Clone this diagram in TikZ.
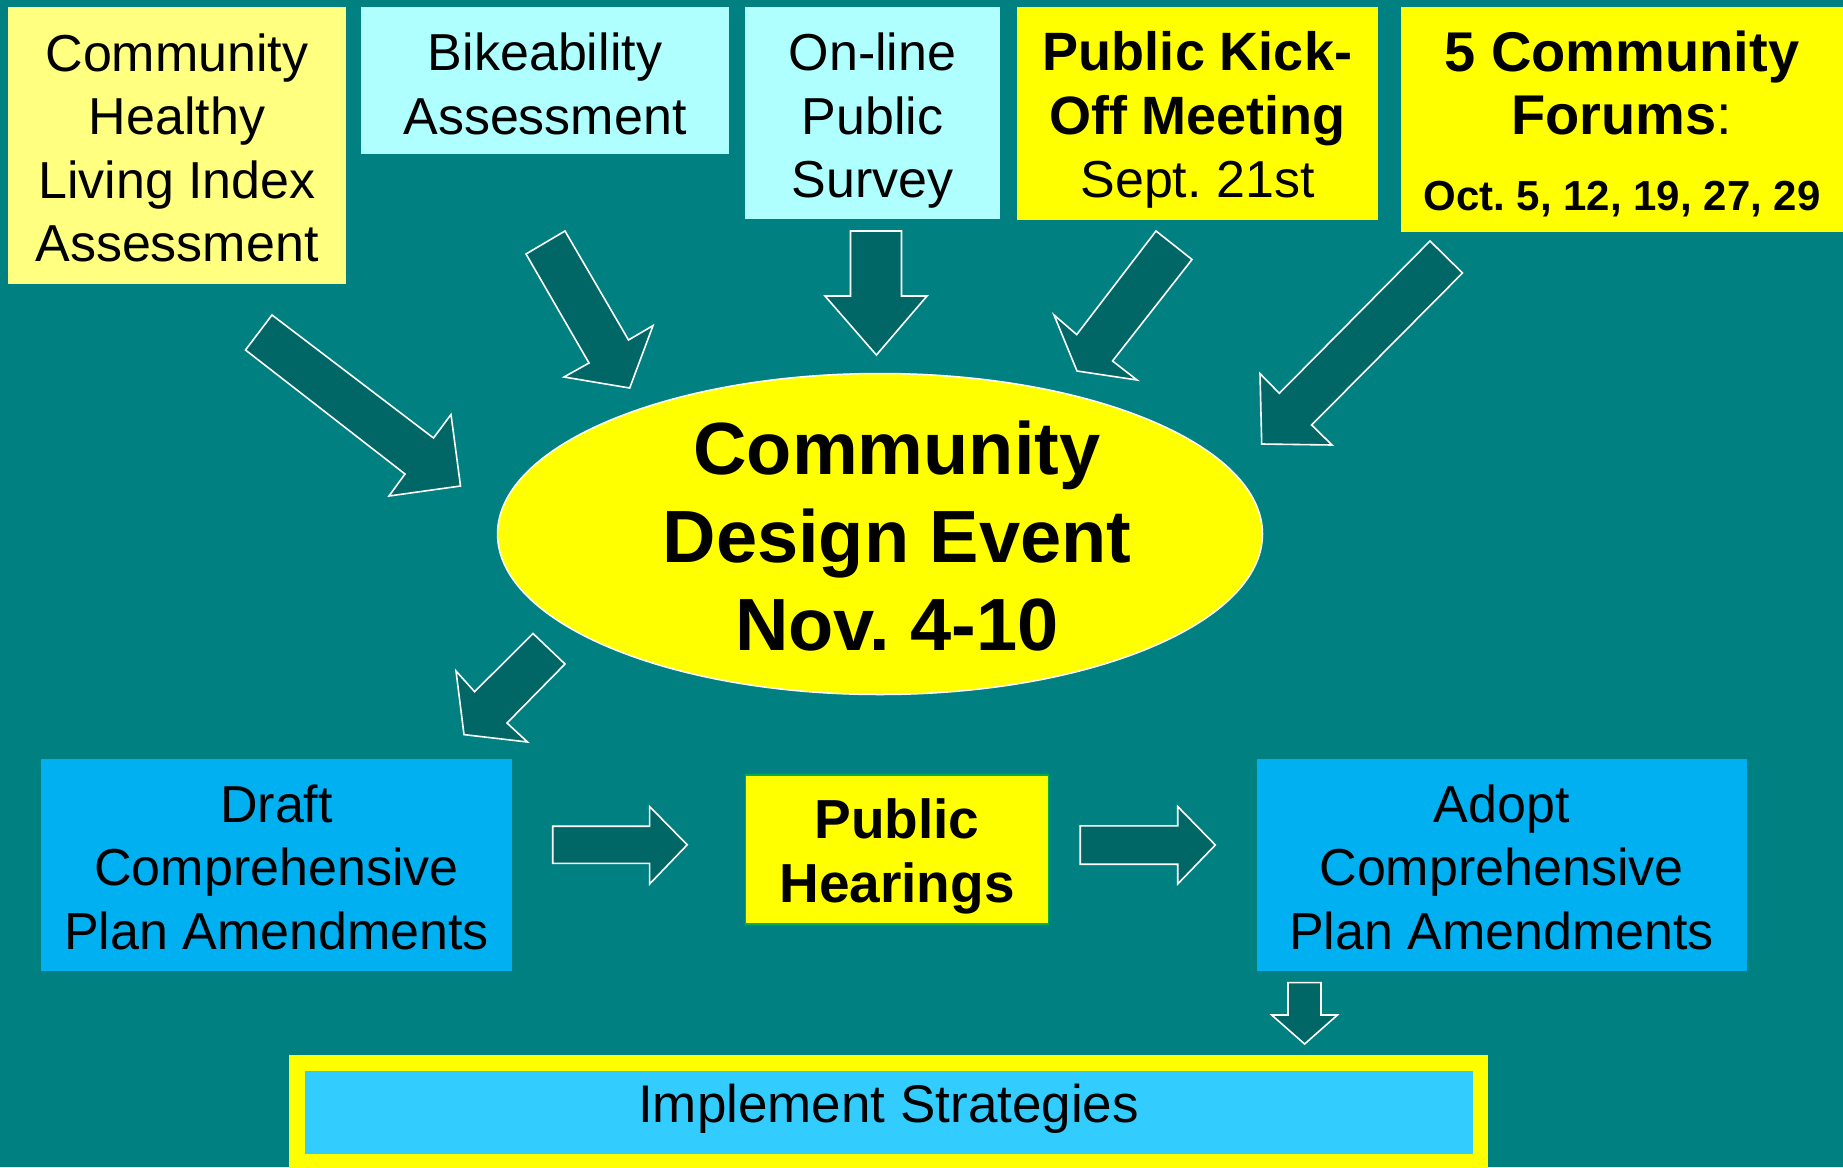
\documentclass[tikz,border=0pt]{standalone}
\usepackage{fontspec}
\setmainfont{Liberation Sans}
\frenchspacing
\usetikzlibrary{shapes.geometric}
\definecolor{bg}{RGB}{0,128,128}
\definecolor{arrowc}{RGB}{0,102,102}
\definecolor{lyellow}{RGB}{255,255,128}
\definecolor{lcyan}{RGB}{175,255,255}
\definecolor{yel}{RGB}{255,255,0}
\definecolor{blu}{RGB}{0,176,240}
\definecolor{icyan}{RGB}{51,204,255}
\definecolor{grn}{RGB}{0,176,80}
\begin{document}
\frenchspacing
\begin{tikzpicture}[x=1pt,y=-1pt,
  boxbg/.style={rectangle, inner sep=0pt},
  txt/.style={inner sep=0pt, align=center, text=black},
  reg/.style={font=\fontsize{52}{63.5}\selectfont},
  bld/.style={font=\fontsize{55}{64}\selectfont\bfseries},
  barrow/.style={fill=arrowc, draw=white, line width=1.6pt, line join=miter}]
\fill[bg] (0,0) rectangle (1843,1167);
\useasboundingbox (0,0) rectangle (1843,1167);

% top boxes
\node[boxbg, fill=lyellow, minimum width=338pt, minimum height=277pt] (chli) at (177,145.5) {};
\node[txt, reg] (chlit) at ([yshift=-2.5pt]chli.center)
  {Community\\Healthy\\Living Index\\Assessment};
\node[boxbg, fill=lcyan, minimum width=368pt, minimum height=147pt] (bike) at (545,80.5) {};
\node[txt, reg] (biket) at ([yshift=-3.5pt]bike.center)
  {Bikeability\\Assessment};
\node[boxbg, fill=lcyan, minimum width=255pt, minimum height=212pt] (survey) at (872.5,113) {};
\node[txt, reg] (surveyt) at ([yshift=-8pt]survey.center)
  {On-line\\Public\\Survey};
\node[boxbg, fill=yel, minimum width=361pt, minimum height=213pt] (kick) at (1197.5,113.5) {};
\node[txt, font=\fontsize{54}{63.5}\selectfont] (kickt) at ([yshift=-6.5pt]kick.center)
  {\textbf{Public Kick-}\\\textbf{Off Meeting}\\{\fontsize{52}{63.5}\selectfont Sept. 21st}};
\node[boxbg, fill=yel, minimum width=442pt, minimum height=225pt] (forums) at (1622,119.5) {};
\node[txt, font=\fontsize{56}{63}\selectfont\bfseries] (forumst) at ([yshift=-4.5pt]forums.center)
  {5 Community\\Forums{\mdseries :}\\[13pt]{\fontsize{42}{63}\selectfont Oct. 5, 12, 19, 27, 29}};

% central event
\node[ellipse, fill=yel, draw=white, line width=1.5pt, inner sep=0pt,
      minimum width=765pt, minimum height=321pt] (ev) at (880,534) {};
\node[txt, font=\fontsize{74}{88}\selectfont\bfseries] (evt) at ([xshift=17pt,yshift=-2pt]ev.center)
  {Community\\Design Event\\Nov. 4-10};

% middle row
\node[boxbg, fill=blu, minimum width=471pt, minimum height=212pt] (draft) at (276.5,865) {};
\node[txt, reg] (draftt) at ([yshift=-2pt]draft.center)
  {Draft\\Comprehensive\\Plan Amendments};
\node[boxbg, fill=yel, draw=grn, line width=1.5pt, minimum width=303pt, minimum height=149pt] (hear) at (897,849.5) {};
\node[txt, bld] (heart) at ([yshift=-7pt]hear.center)
  {Public\\Hearings};
\node[boxbg, fill=blu, minimum width=490pt, minimum height=212pt] (adopt) at (1501.6,865) {};
\node[txt, reg] (adoptt) at ([yshift=-2pt]adopt.center)
  {Adopt\\Comprehensive\\Plan Amendments};

% implement
\node[boxbg, fill=yel, minimum width=1199pt, minimum height=124pt] (implo) at (888.7,1117) {};
\node[boxbg, fill=icyan, minimum width=1168pt, minimum height=83pt] (impl) at (888.6,1112.3) {};
\node[txt, font=\fontsize{53}{60}\selectfont] (implt) at ([yshift=3.5pt]impl.center)
  {Implement Strategies};

% block arrows
\draw[barrow] (272,315) -- (433.5,438) -- (451,414.5) -- (460.5,486) -- (389,496) -- (405,474) -- (245.5,350) -- cycle;
\draw[barrow] (565,231) -- (628.5,340) -- (653,325.6) -- (629.7,388) -- (564,377) -- (589,363) -- (526,254) -- cycle;
\draw[barrow] (850.5,231) -- (901.5,231) -- (901.5,296) -- (927,296) -- (876.4,355) -- (825,296) -- (850.5,296) -- cycle;
\draw[barrow] (1156,231) -- (1192,259.5) -- (1112.5,361) -- (1137,380) -- (1077,371) -- (1054,315) -- (1076.7,334.6) -- cycle;
\draw[barrow] (1430,241) -- (1462.5,273) -- (1311.6,425) -- (1332,445) -- (1261.7,444) -- (1260,373.6) -- (1279.3,393.3) -- cycle;
\draw[barrow] (533,633.5) -- (565,664) -- (507,723) -- (527.5,742) -- (464,734.6) -- (456,671) -- (474.6,691.7) -- cycle;
\draw[barrow] (552.7,826.2) -- (649.6,826.2) -- (649.6,806.5) -- (687.2,844.8) -- (649.6,884) -- (649.6,863.4) -- (552.7,863.4) -- cycle;
\draw[barrow] (1080.2,825.8) -- (1177.7,825.8) -- (1177.7,806.5) -- (1215.3,845) -- (1177.7,884) -- (1177.7,864.2) -- (1080.2,864.2) -- cycle;
\draw[barrow] (1288,982.6) -- (1321,982.6) -- (1321,1015) -- (1337.4,1015) -- (1304.6,1044) -- (1271.7,1015) -- (1288,1015) -- cycle;
\end{tikzpicture}
\end{document}
